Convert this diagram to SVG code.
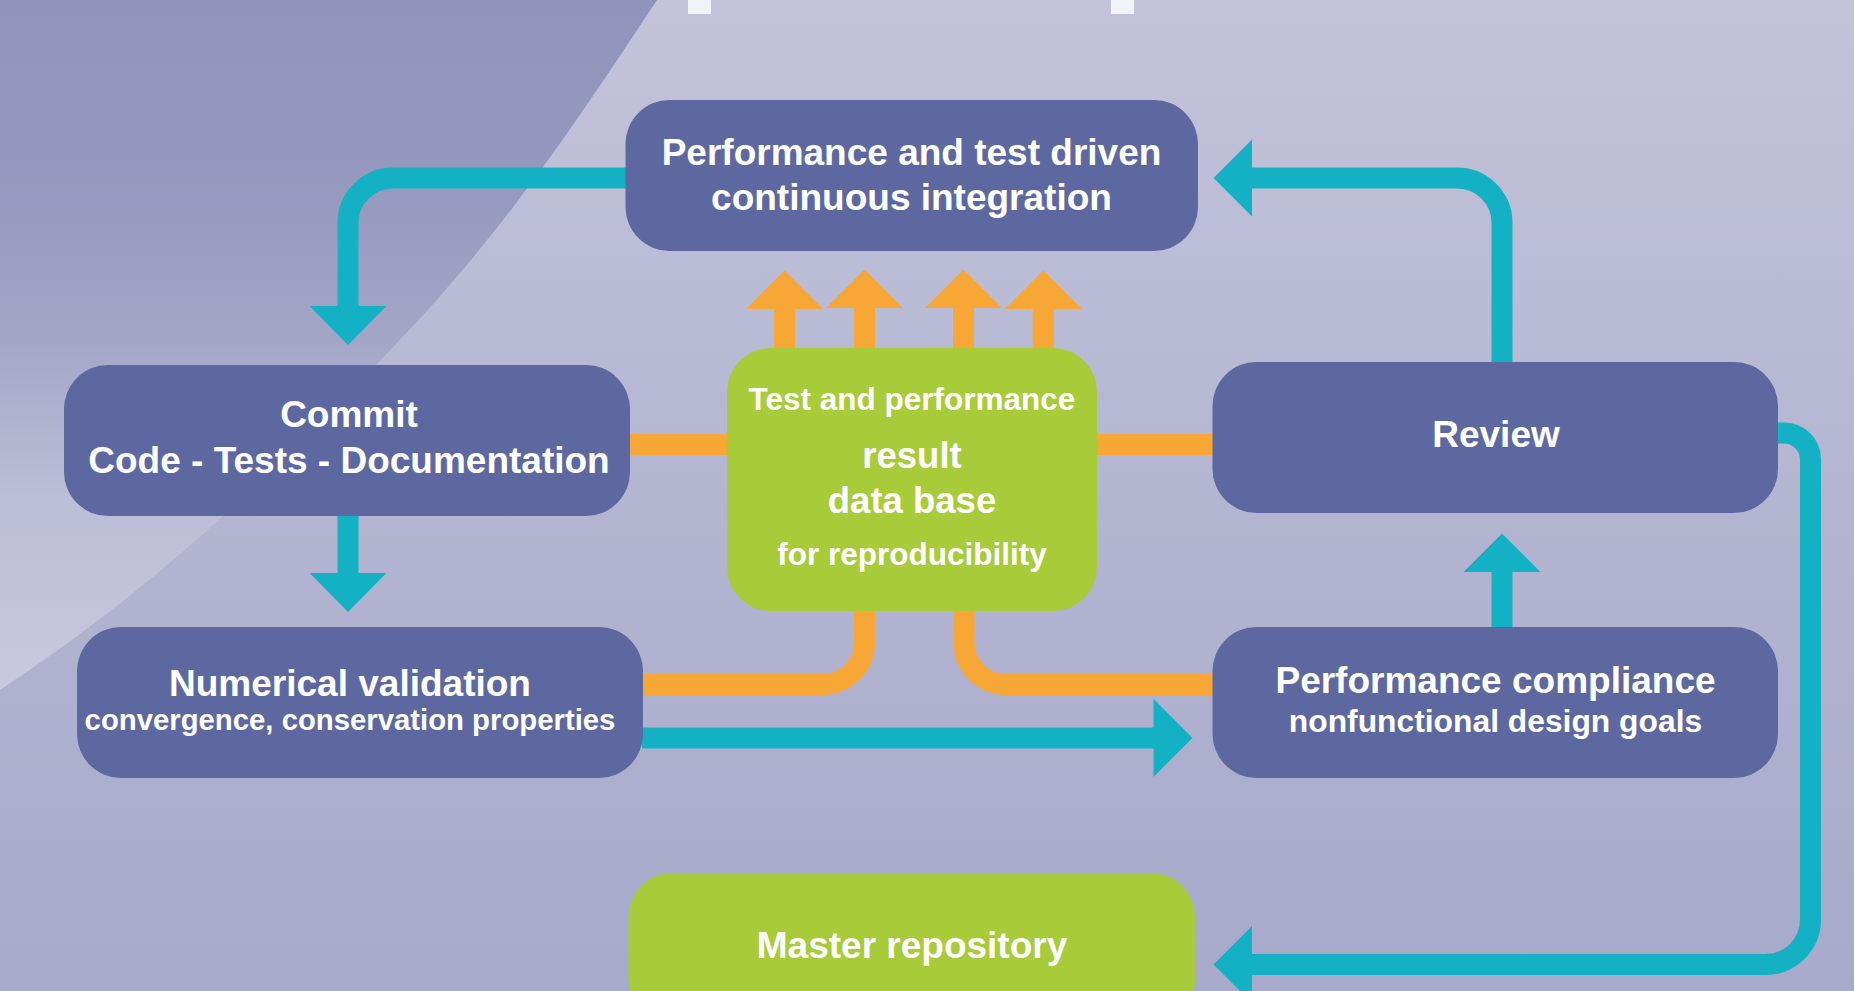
<svg xmlns="http://www.w3.org/2000/svg" width="1854" height="991" viewBox="0 0 1854 991">
  <defs>
    <linearGradient id="bg" x1="0" y1="0" x2="0" y2="991" gradientUnits="userSpaceOnUse">
      <stop offset="0" stop-color="#c3c4da"/>
      <stop offset="0.5" stop-color="#b4b5d1"/>
      <stop offset="1" stop-color="#a7aacb"/>
    </linearGradient>
    <linearGradient id="swoosh" x1="0" y1="0" x2="0" y2="690" gradientUnits="userSpaceOnUse">
      <stop offset="0" stop-color="#9093bb"/>
      <stop offset="0.3" stop-color="#979abf"/>
      <stop offset="0.5" stop-color="#a5a7c8"/>
      <stop offset="0.72" stop-color="#bcbdd6"/>
      <stop offset="1" stop-color="#c8c9de"/>
    </linearGradient>
    <style>
      .box { fill: #5e68a0; }
      .db { fill: #a8cb39; }
      .teal { fill: none; stroke: #13b1c3; stroke-width: 21; }
      .teal-head { fill: #13b1c3; }
      .orange { fill: none; stroke: #f7a735; stroke-width: 21; }
      .orange-head { fill: #f7a735; }
      text { font-family: "Liberation Sans", Arial, Helvetica, sans-serif; font-weight: bold; fill: #ffffff; text-anchor: middle; }
      .big { font-size: 37px; }
      .mid { font-size: 36.5px; }
      .small { font-size: 31.5px; }
    </style>
  </defs>

  <!-- background -->
  <rect x="0" y="0" width="1854" height="991" fill="url(#bg)"/>
  <path d="M0,0 H657 C581,115 507,228 397,343 C286,459 175,574 0,690 Z" fill="url(#swoosh)"/>
  <rect x="688" y="0" width="23" height="14" fill="#f2f3f6"/>
  <rect x="1111" y="0" width="23" height="14" fill="#f2f3f6"/>

  <!-- connectors -->
  <g id="connectors">
    <!-- orange links to the result data base -->
    <path class="orange" d="M630,444.5 H727"/>
    <path class="orange" d="M1097,444.5 H1213"/>
    <path class="orange" d="M864.5,611 V642.5 A42,42 0 0 1 822.5,684.5 H643"/>
    <path class="orange" d="M964,611 V642.5 A42,42 0 0 0 1006,684.5 H1213"/>
    <!-- orange upward arrows into CI -->
    <path class="orange" d="M784.5,348 V305 M864.5,348 V305 M963.5,348 V305 M1043.2,348 V305"/>
    <polygon class="orange-head" points="746,309 823,309 784.5,270.5"/>
    <polygon class="orange-head" points="826,308 903,308 864.5,269.5"/>
    <polygon class="orange-head" points="925,308 1002,308 963.5,269.5"/>
    <polygon class="orange-head" points="1004.7,309 1081.7,309 1043.2,270.5"/>

    <!-- CI -> Commit -->
    <path class="teal" d="M627,178 H393 A45,45 0 0 0 348,223 V308"/>
    <polygon class="teal-head" points="309.5,306 386.5,306 348,345"/>
    <!-- Commit -> Numerical validation -->
    <path class="teal" d="M348,515 V575"/>
    <polygon class="teal-head" points="309.5,573 386.5,573 348,612"/>
    <!-- Numerical validation -> Performance compliance -->
    <path class="teal" d="M642,738 H1156"/>
    <polygon class="teal-head" points="1153.5,699 1153.5,777 1192.5,738"/>
    <!-- Performance compliance -> Review -->
    <path class="teal" d="M1502,628 V570"/>
    <polygon class="teal-head" points="1463.5,572 1540.5,572 1502,533.5"/>
    <!-- Review -> CI -->
    <path class="teal" d="M1502,363 V223 A45,45 0 0 0 1457,178 H1250"/>
    <polygon class="teal-head" points="1252,139.5 1252,216.5 1213.5,178"/>
    <!-- Review -> Master repository -->
    <path class="teal" d="M1777,433 H1784 A26.5,26.5 0 0 1 1810.5,459.5 V919.5 A45,45 0 0 1 1765.5,964.5 H1250"/>
    <polygon class="teal-head" points="1252,926 1252,1003 1213.5,964.5"/>
  </g>

  <!-- nodes -->
  <g id="ci">
    <rect class="box" x="625.5" y="100" width="572.5" height="151" rx="44" ry="44"/>
    <text class="big" x="911.5" y="165">Performance and test driven</text>
    <text class="big" x="911.5" y="210">continuous integration</text>
  </g>
  <g id="commit">
    <rect class="box" x="64" y="365" width="566" height="151" rx="44" ry="44"/>
    <text class="big" x="349" y="427">Commit</text>
    <text class="big" x="349" y="472.5">Code - Tests - Documentation</text>
  </g>
  <g id="result-db">
    <rect class="db" x="727" y="348" width="370" height="263" rx="44" ry="44"/>
    <text class="small" x="912" y="410">Test and performance</text>
    <text class="mid" x="912" y="467.5">result</text>
    <text class="mid" x="912" y="512.5">data base</text>
    <text class="small" x="912" y="565">for reproducibility</text>
  </g>
  <g id="review">
    <rect class="box" x="1212.5" y="362" width="565.5" height="151" rx="44" ry="44"/>
    <text class="big" x="1496" y="447">Review</text>
  </g>
  <g id="numerical">
    <rect class="box" x="77" y="627" width="566" height="151" rx="44" ry="44"/>
    <text class="big" x="350" y="696">Numerical validation</text>
    <text x="350" y="730" font-size="29.3">convergence, conservation properties</text>
  </g>
  <g id="compliance">
    <rect class="box" x="1212.5" y="627" width="565.5" height="151" rx="44" ry="44"/>
    <text class="big" x="1495.5" y="693">Performance compliance</text>
    <text x="1495.5" y="732" font-size="31.8">nonfunctional design goals</text>
  </g>
  <g id="master">
    <rect class="db" x="628.5" y="873" width="566.5" height="151" rx="44" ry="44"/>
    <text class="big" x="912" y="958">Master repository</text>
  </g>
</svg>
